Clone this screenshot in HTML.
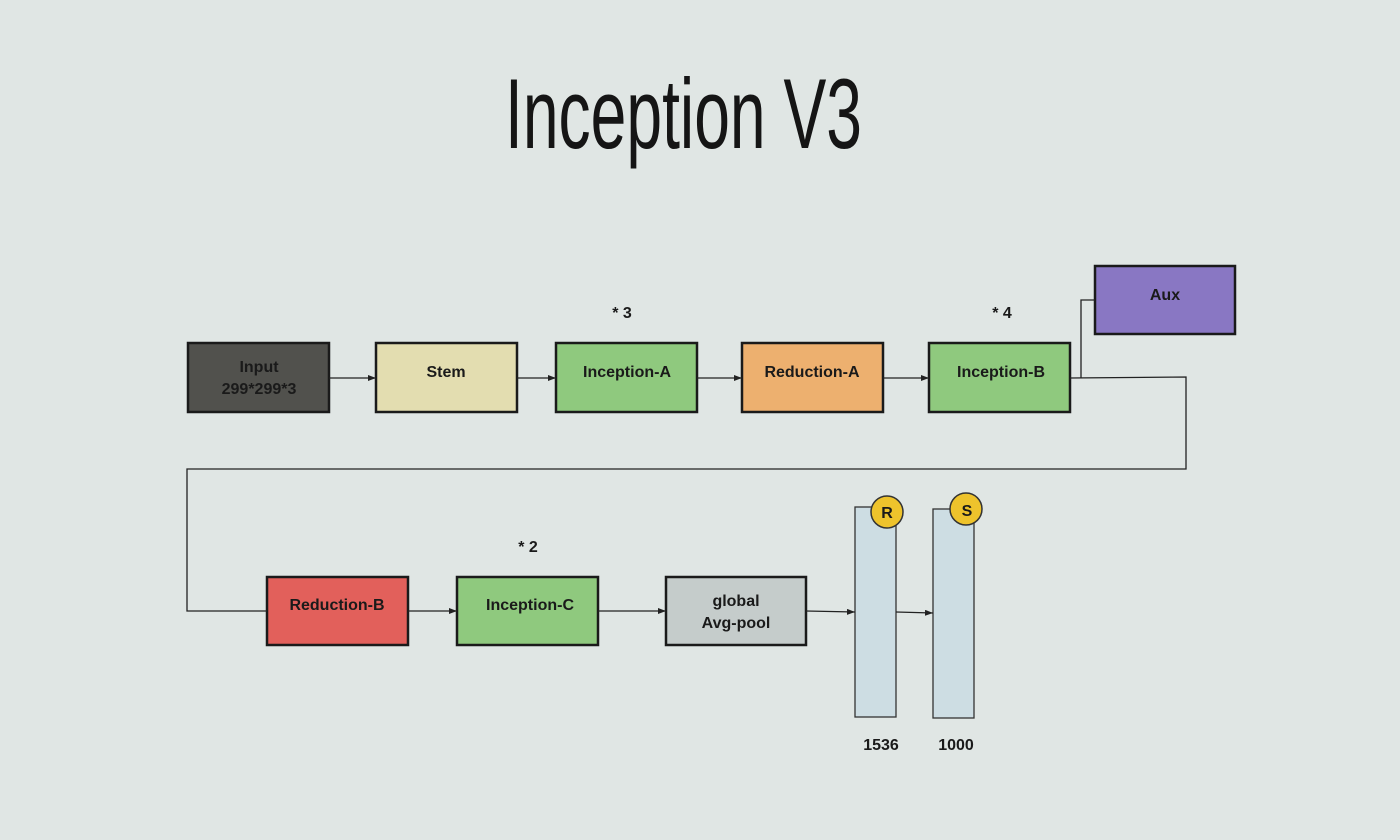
<!DOCTYPE html>
<html><head><meta charset="utf-8"><style>
html,body{margin:0;padding:0;background:#e0e6e4;}
svg{display:block}
text{font-family:"Liberation Sans","DejaVu Sans",sans-serif;}
.l{font-weight:bold;font-size:16px;fill:#1a1a1a;text-anchor:middle}
</style></head><body>
<svg width="1400" height="840" viewBox="0 0 1400 840" xmlns="http://www.w3.org/2000/svg">
<defs><marker id="a" markerWidth="8" markerHeight="6" refX="8" refY="3" orient="auto" markerUnits="userSpaceOnUse"><path d="M0,0 L8,3 L0,6z" fill="#222"/></marker></defs>
<rect width="1400" height="840" fill="#e0e6e4"/>
<text x="505" y="148" font-size="99" fill="#151515" textLength="357" lengthAdjust="spacingAndGlyphs">Inception V3</text>
<g stroke="#1a1a1a" stroke-width="2.5">
<rect x="188" y="343" width="141" height="69" fill="#51514d"/>
<rect x="376" y="343" width="141" height="69" fill="#e3ddb0"/>
<rect x="556" y="343" width="141" height="69" fill="#8fc97e"/>
<rect x="742" y="343" width="141" height="69" fill="#edb06f"/>
<rect x="929" y="343" width="141" height="69" fill="#8fc97e"/>
<rect x="1095" y="266" width="140" height="68" fill="#8977c3"/>
<rect x="267" y="577" width="141" height="68" fill="#e2605b"/>
<rect x="457" y="577" width="141" height="68" fill="#8fc97e"/>
<rect x="666" y="577" width="140" height="68" fill="#c5cccb"/>
</g>
<g stroke="#333" stroke-width="1.3" fill="#cddde3">
<rect x="855" y="507" width="41" height="210"/>
<rect x="933" y="509" width="41" height="209"/>
</g>
<g stroke="#222" stroke-width="1.3" fill="none">
<line x1="329" y1="378" x2="376" y2="378" marker-end="url(#a)"/>
<line x1="517" y1="378" x2="556" y2="378" marker-end="url(#a)"/>
<line x1="697" y1="378" x2="742" y2="378" marker-end="url(#a)"/>
<line x1="883" y1="378" x2="929" y2="378" marker-end="url(#a)"/>
<polyline points="1070,378 1186,377 1186,469 187,469 187,611 267,611"/>
<polyline points="1081,378 1081,300 1095,300"/>
<line x1="408" y1="611" x2="457" y2="611" marker-end="url(#a)"/>
<line x1="598" y1="611" x2="666" y2="611" marker-end="url(#a)"/>
<line x1="806" y1="611" x2="855" y2="612" marker-end="url(#a)"/>
<line x1="896" y1="612" x2="933" y2="613" marker-end="url(#a)"/>
</g>
<g stroke="#333" stroke-width="1.5" fill="#eec32c">
<circle cx="887" cy="512" r="16"/>
<circle cx="966" cy="509" r="16"/>
</g>
<text class="l" x="887" y="518" font-size="15">R</text>
<text class="l" x="967" y="516" font-size="15">S</text>
<text class="l" x="259" y="372" fill="#1d1d1d">Input</text>
<text class="l" x="259" y="394" fill="#1d1d1d">299*299*3</text>
<text class="l" x="446" y="377">Stem</text>
<text class="l" x="627" y="377">Inception-A</text>
<text class="l" x="812" y="377">Reduction-A</text>
<text class="l" x="1001" y="377">Inception-B</text>
<text class="l" x="1165" y="300">Aux</text>
<text class="l" x="337" y="610">Reduction-B</text>
<text class="l" x="530" y="610">Inception-C</text>
<text class="l" x="736" y="606">global</text>
<text class="l" x="736" y="628">Avg-pool</text>
<text class="l" x="622" y="318">* 3</text>
<text class="l" x="1002" y="318">* 4</text>
<text class="l" x="528" y="552">* 2</text>
<text class="l" x="881" y="750">1536</text>
<text class="l" x="956" y="750">1000</text>
</svg>
</body></html>
